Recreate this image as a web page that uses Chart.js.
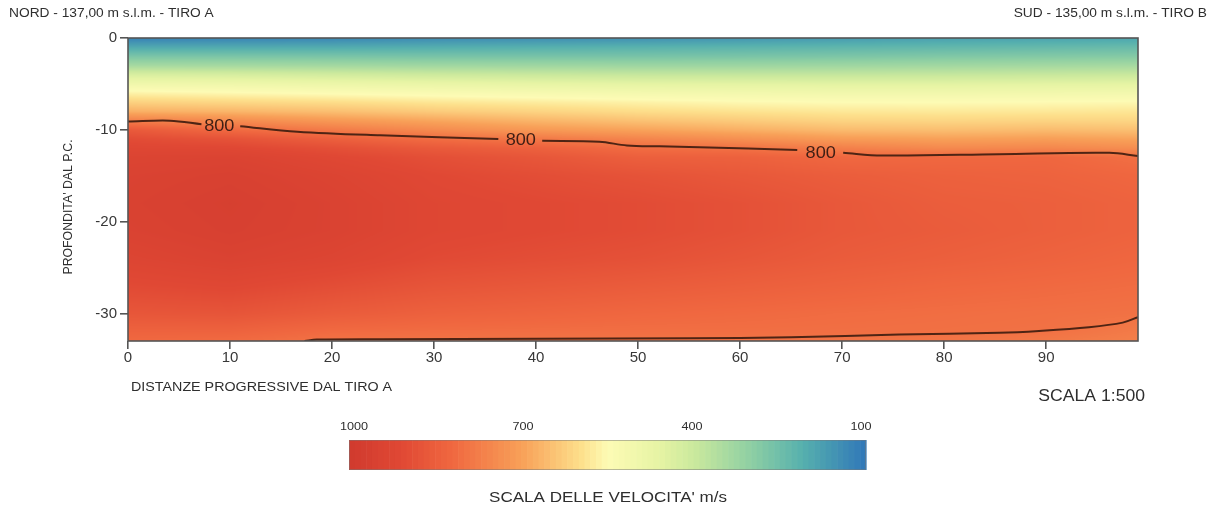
<!DOCTYPE html>
<html><head><meta charset="utf-8">
<script src="https://cdn.jsdelivr.net/npm/chart.js@4.4.1/dist/chart.umd.min.js"></script>
<style>html,body{margin:0;padding:0;background:#fff}#wrap{width:1215px;height:513px;position:relative}</style>
</head><body><div id="wrap"><canvas id="c" width="1215" height="513"></canvas></div>
<script>
// ---- data ----
const xNodes = [0, 10, 20, 30, 40, 50, 60, 70, 80, 90, 99];
const depthNodes = [0, -1, -2, -3, -4, -5, -6, -7, -8, -9, -10, -11, -12, -13, -15, -18, -21, -24, -27, -30, -32, -33];
const velocityGrid = [
 [120,125,130,140,145,150,160,170,180,185,190],
 [195,198,200,205,210,215,220,225,230,235,240],
 [270,270,268,265,265,265,268,272,278,282,285],
 [340,338,335,330,328,325,325,328,332,336,340],
 [430,425,415,405,398,392,390,390,392,395,398],
 [500,495,485,475,465,458,455,452,452,455,458],
 [565,555,545,535,525,515,510,505,505,508,510],
 [620,610,600,585,575,565,555,550,550,552,555],
 [675,665,650,630,615,600,590,582,580,582,585],
 [770,745,715,690,665,645,630,615,612,615,612],
 [860,815,780,745,715,695,675,655,650,655,648],
 [900,880,845,810,785,760,735,710,700,705,695],
 [920,915,890,860,840,810,800,770,750,755,740],
 [935,940,915,890,870,845,840,822,822,825,805],
 [945,955,935,910,895,880,865,850,840,835,825],
 [950,965,945,920,910,900,885,865,850,845,835],
 [945,960,945,920,910,900,885,865,855,845,835],
 [930,945,930,905,895,885,870,855,845,835,825],
 [905,915,895,875,865,855,845,835,825,818,812],
 [870,875,855,840,832,824,818,812,808,804,800],
 [835,835,815,810,808,806,806,805,803,800,780],
 [820,815,798,796,795,795,795,795,793,785,770]
];
const colorStopValues = [1000, 910, 820, 700, 595, 550, 460, 400, 300, 210, 100];
const colorStopHex = ['#d03a2e','#e04834','#f06840','#f8a058','#fde08c','#fdfbb5','#e6f4a4','#cbe99d','#8ecfa3','#56b0ae','#3077b8'];

const xTickValues = [0, 10, 20, 30, 40, 50, 60, 70, 80, 90];
const yTickValues = [0, -10, -20, -30];

const contourTopX = [0, 4.1, 7.2, 9, 11.0, 16.6, 24.7, 36.3, 38.5, 40.6, 46.2, 48.9, 52.1, 56, 65.6, 68, 70.1, 73.9, 85.4, 96.2, 99];
const contourTopY = [-9.1, -9.0, -9.4, null, -9.6, -10.2, -10.6, -11.0, null, -11.2, -11.3, -11.7, -11.8, -11.9, -12.2, null, -12.5, -12.8, -12.65, -12.5, -12.85];
const contourBottomX = [17.3, 18.5, 25, 40, 55, 65, 75.6, 85.4, 89.3, 94.2, 97.5, 99];
const contourBottomY = [-33, -32.85, -32.8, -32.75, -32.7, -32.6, -32.3, -32.1, -31.9, -31.5, -31.0, -30.4];
const contourLabelX = [8.95, 38.5, 67.9];
const contourLabelY = [-9.5, -11.1, -12.5];
const contourLabelText = ['800', '800', '800'];

const legendValues = [1000, 700, 400, 100];
const legendMax = 1000, legendMin = 100;

// ---- helpers ----
function hexToRgb(h){ return [parseInt(h.substr(1,2),16), parseInt(h.substr(3,2),16), parseInt(h.substr(5,2),16)]; }
const stopRgb = colorStopHex.map(hexToRgb);
function velColor(v){
  if (v >= colorStopValues[0]) return stopRgb[0];
  const n = colorStopValues.length;
  if (v <= colorStopValues[n-1]) return stopRgb[n-1];
  for (let i = 0; i < n-1; i++){
    const a = colorStopValues[i], b = colorStopValues[i+1];
    if (v <= a && v >= b){
      const t = (a - v) / (a - b);
      const c0 = stopRgb[i], c1 = stopRgb[i+1];
      return [c0[0]+(c1[0]-c0[0])*t, c0[1]+(c1[1]-c0[1])*t, c0[2]+(c1[2]-c0[2])*t];
    }
  }
  return stopRgb[n-1];
}
function locateAsc(nodes, v){
  if (v <= nodes[0]) return [0, 0];
  for (let i = 0; i < nodes.length-1; i++) if (v <= nodes[i+1]) return [i, (v-nodes[i])/(nodes[i+1]-nodes[i])];
  return [nodes.length-2, 1];
}
function locateDesc(nodes, v){
  if (v >= nodes[0]) return [0, 0];
  for (let i = 0; i < nodes.length-1; i++) if (v >= nodes[i+1]) return [i, (nodes[i]-v)/(nodes[i]-nodes[i+1])];
  return [nodes.length-2, 1];
}
const FONT = '"Liberation Sans", Arial, sans-serif';
function stretchText(ctx, text, x, y, size, align, color, sx){
  ctx.save();
  ctx.font = size + 'px ' + FONT;
  ctx.fillStyle = color;
  ctx.textBaseline = 'middle';
  ctx.textAlign = align;
  ctx.translate(x, y);
  ctx.scale(sx, 1);
  ctx.fillText(text, 0, 0);
  ctx.restore();
}

// ---- heatmap (drawn from the grid through the chart scales) ----
const heatPlugin = {
  id: 'heat',
  beforeDatasetsDraw(chart){
    const {ctx, chartArea: a, scales} = chart;
    const x0 = Math.floor(a.left), y0 = Math.floor(a.top);
    const w = Math.ceil(a.right) - x0, h = Math.ceil(a.bottom) - y0;
    const off = document.createElement('canvas'); off.width = w; off.height = h;
    const octx = off.getContext('2d');
    const img = octx.createImageData(w, h);
    const cols = [], rows = [];
    for (let i = 0; i < w; i++) cols.push(locateAsc(xNodes, scales.x.getValueForPixel(x0 + i + 0.5)));
    for (let j = 0; j < h; j++) rows.push(locateDesc(depthNodes, scales.y.getValueForPixel(y0 + j + 0.5)));
    for (let j = 0; j < h; j++){
      const [ri, rt] = rows[j];
      const r0 = velocityGrid[ri], r1 = velocityGrid[ri+1];
      for (let i = 0; i < w; i++){
        const [ci, ct] = cols[i];
        const top = r0[ci] + (r0[ci+1]-r0[ci])*ct;
        const bot = r1[ci] + (r1[ci+1]-r1[ci])*ct;
        const c = velColor(top + (bot-top)*rt);
        const k = (j*w + i)*4;
        img.data[k] = c[0]; img.data[k+1] = c[1]; img.data[k+2] = c[2]; img.data[k+3] = 255;
      }
    }
    octx.putImageData(img, 0, 0);
    ctx.drawImage(off, x0, y0);
  }
};

// ---- frame, contour labels, captions, colour legend ----
const decoPlugin = {
  id: 'deco',
  afterDatasetsDraw(chart){
    const {ctx, chartArea: a, scales} = chart;
    for (let i = 0; i < contourLabelX.length; i++){
      stretchText(ctx, contourLabelText[i], scales.x.getPixelForValue(contourLabelX[i]), scales.y.getPixelForValue(contourLabelY[i]) + 1, 16.5, 'center', '#3e1e14', 1.1);
    }
    ctx.save();
    ctx.strokeStyle = '#555';
    ctx.lineWidth = 1.6;
    ctx.strokeRect(a.left, a.top, a.right - a.left, a.bottom - a.top);
    ctx.restore();
  },
  afterDraw(chart){
    const ctx = chart.ctx;
    stretchText(ctx, 'NORD - 137,00 m s.l.m. - TIRO A', 9, 14, 12.5, 'left', '#2e2e2e', 1.1);
    stretchText(ctx, 'SUD - 135,00 m s.l.m. - TIRO B', 1207, 14, 12.5, 'right', '#2e2e2e', 1.1);
    stretchText(ctx, 'DISTANZE PROGRESSIVE DAL TIRO A', 131, 387, 13, 'left', '#2e2e2e', 1.1);
    stretchText(ctx, 'SCALA 1:500', 1145, 397, 16, 'right', '#2e2e2e', 1.1);
    ctx.save();
    ctx.translate(68, 207);
    ctx.rotate(-Math.PI/2);
    ctx.scale(1, 1.1);
    ctx.font = '12.3px ' + FONT;
    ctx.fillStyle = '#2e2e2e';
    ctx.textAlign = 'center';
    ctx.textBaseline = 'middle';
    ctx.fillText("PROFONDITA' DAL P.C.", 0, 0);
    ctx.restore();
    const L = 349, R = 866, T = 440, B = 470;
    const bins = 90;
    const bw = (R - L) / bins;
    for (let b = 0; b < bins; b++){
      const v = legendMax - (b + 0.5) * (legendMax - legendMin) / bins;
      const c = velColor(v);
      ctx.fillStyle = 'rgb(' + Math.round(c[0]) + ',' + Math.round(c[1]) + ',' + Math.round(c[2]) + ')';
      ctx.fillRect(L + b*bw, T, bw + 0.6, B - T);
    }
    ctx.save();
    ctx.strokeStyle = 'rgba(120,120,120,0.5)';
    ctx.lineWidth = 1;
    ctx.strokeRect(L + 0.5, T + 0.5, R - L - 1, B - T - 1);
    ctx.restore();
    for (const v of legendValues){
      const px = L + 5 + (legendMax - v) / (legendMax - legendMin) * (R - L - 10);
      stretchText(ctx, String(v), px, 427, 11.5, 'center', '#2e2e2e', 1.1);
    }
    stretchText(ctx, "SCALA DELLE VELOCITA' m/s", 608, 498, 15.5, 'center', '#2e2e2e', 1.1);
  }
};

const contourColor = '#4e2414';
new Chart(document.getElementById('c'), {
  type: 'line',
  data: {
    datasets: [
      { data: contourTopX.map((x, i) => ({x, y: contourTopY[i]})), borderColor: contourColor, borderWidth: 2, pointRadius: 0, tension: 0.35, fill: false, spanGaps: false },
      { data: contourBottomX.map((x, i) => ({x, y: contourBottomY[i]})), borderColor: contourColor, borderWidth: 2, pointRadius: 0, tension: 0.35, fill: false }
    ]
  },
  options: {
    responsive: false,
    animation: false,
    events: [],
    layout: { padding: { top: 38, right: 77, left: 0, bottom: 0 } },
    plugins: { legend: { display: false }, tooltip: { enabled: false } },
    scales: {
      x: {
        type: 'linear', min: 0, max: 99,
        afterFit: s => { s.height = 172; },
        afterBuildTicks: s => { s.ticks = xTickValues.map(v => ({value: v})); },
        ticks: { includeBounds: false, color: '#383838', font: { family: FONT, size: 15 }, padding: 0, maxRotation: 0 },
        grid: { display: true, drawOnChartArea: false, drawTicks: true, tickLength: 8, color: '#555', lineWidth: 1.6 },
        border: { display: false }
      },
      y: {
        type: 'linear', min: -33, max: 0,
        afterFit: s => { s.width = 128; },
        afterBuildTicks: s => { s.ticks = yTickValues.map(v => ({value: v})); },
        ticks: { includeBounds: false, color: '#383838', font: { family: FONT, size: 15 }, padding: 3 },
        grid: { display: true, drawOnChartArea: false, drawTicks: true, tickLength: 8, color: '#555', lineWidth: 1.6 },
        border: { display: false }
      }
    }
  },
  plugins: [heatPlugin, decoPlugin]
});
</script>
</body></html>
